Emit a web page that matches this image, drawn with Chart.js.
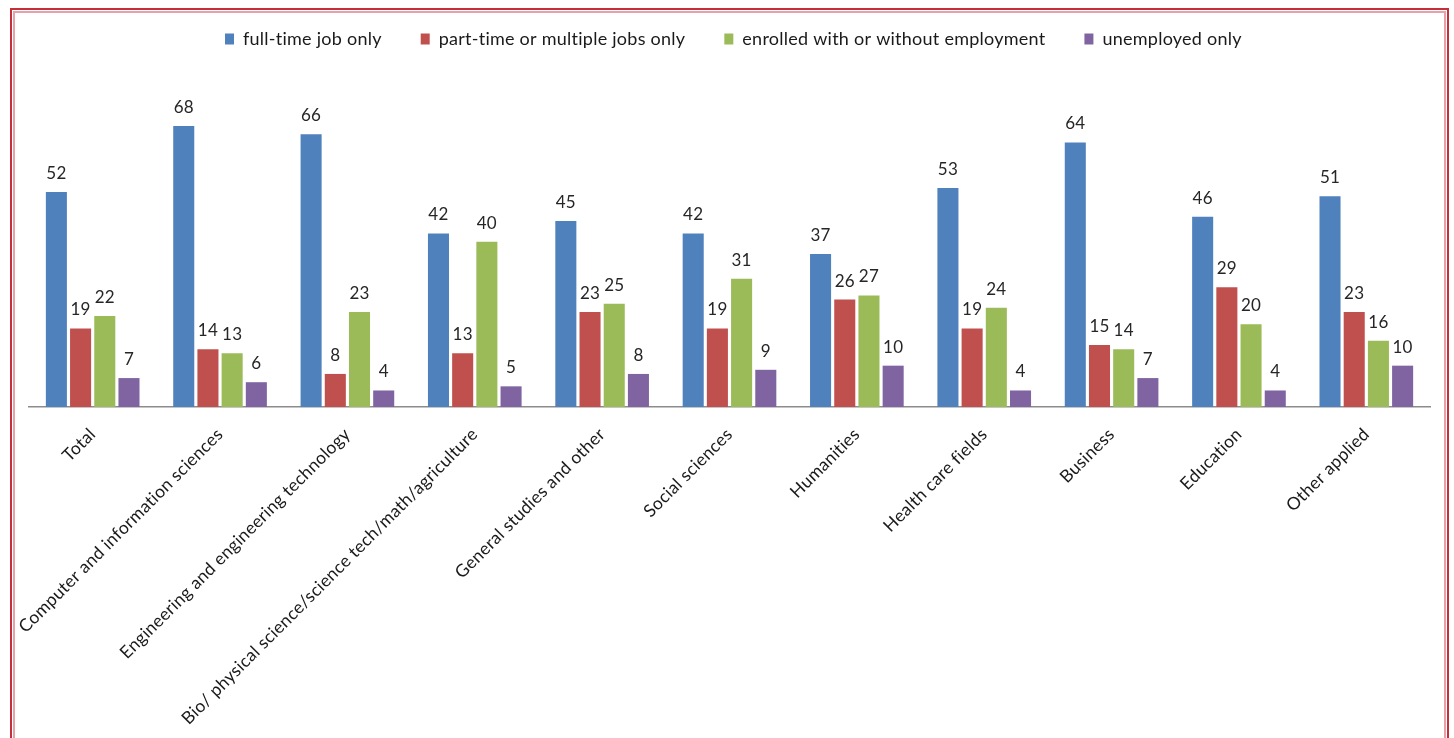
<!DOCTYPE html>
<html>
<head>
<meta charset="utf-8">
<script src="https://cdn.jsdelivr.net/npm/chart.js@4/dist/chart.umd.min.js"></script>
<style>
  html, body { margin: 0; padding: 0; background: #fff; overflow: hidden; }
  body { width: 1454px; height: 738px; position: relative; }
  #frame {
    position: absolute; left: 10px; top: 8px; width: 1435px; height: 800px;
    border: 2px solid #c3303a;
    box-shadow: inset 0 0 0 1px #fff, inset 0 0 0 3px #e6a2a8;
    pointer-events: none; z-index: 2;
  }
  #wrap { position: absolute; left: 0; top: -14px; width: 1454px; height: 752px; }
</style>
</head>
<body>
<div id="wrap"><canvas id="c" width="1454" height="752"></canvas></div>
<div id="frame"></div>
<script>
const categories = [
  'Total',
  'Computer and information sciences',
  'Engineering and engineering technology',
  'Bio/ physical science/science tech/math/agriculture',
  'General studies and other',
  'Social sciences',
  'Humanities',
  'Health care fields',
  'Business',
  'Education',
  'Other applied'
];
const seriesNames = [
  'full-time job only',
  'part-time or multiple jobs only',
  'enrolled with or without employment',
  'unemployed only'
];
const fullTime   = [52, 68, 66, 42, 45, 42, 37, 53, 64, 46, 51];
const partTime   = [19, 14, 8, 13, 23, 19, 26, 19, 15, 29, 23];
const enrolled   = [22, 13, 23, 40, 25, 31, 27, 24, 14, 20, 16];
const unemployed = [7, 6, 4, 5, 8, 9, 10, 4, 7, 4, 10];
const seriesColors = ['#4f81bd', '#c0504d', '#9bbb59', '#8064a2'];

const FONT = 'Lato, "Open Sans", sans-serif';

// Slight tracking on all canvas text (also keeps "ti"/"fi" unligated)
const tracking = {
  id: 'tracking',
  beforeInit(chart) { chart.ctx.letterSpacing = '0.25px'; },
  beforeDraw(chart) { chart.ctx.letterSpacing = '0.25px'; }
};

// Value printed above every bar
const valueLabels = {
  id: 'valueLabels',
  afterDatasetsDraw(chart) {
    const ctx = chart.ctx;
    ctx.save();
    ctx.font = '17px ' + FONT;
    ctx.fillStyle = '#262626';
    ctx.textAlign = 'center';
    ctx.textBaseline = 'alphabetic';
    chart.data.datasets.forEach((ds, i) => {
      chart.getDatasetMeta(i).data.forEach((bar, j) => {
        ctx.fillText(String(ds.data[j]), bar.x, bar.y - 13);
      });
    });
    ctx.restore();
  }
};

// Fixed legend band height so the plot area starts at a set offset,
// and a small nudge of the legend row itself
const legendBand = {
  id: 'legendBand',
  beforeInit(chart) {
    const legend = chart.legend;
    const fit = legend.fit;
    legend.fit = function () {
      fit.call(this);
      this.height = 111;
    };
    const draw = legend.draw;
    legend.draw = function (...args) {
      const ctx = this.ctx;
      ctx.save();
      ctx.translate(-8, 5);
      draw.apply(this, args);
      ctx.restore();
    };
  }
};

const series = [fullTime, partTime, enrolled, unemployed];

new Chart(document.getElementById('c'), {
  type: 'bar',
  data: {
    labels: categories,
    datasets: series.map((vals, i) => ({
      label: seriesNames[i],
      data: vals,
      backgroundColor: seriesColors[i],
      borderWidth: 0,
      categoryPercentage: 0.76,
      barPercentage: 0.87
    }))
  },
  options: {
    responsive: false,
    animation: false,
    events: [],
    layout: { padding: { left: 29, right: 24, top: 0, bottom: 0 } },
    plugins: {
      legend: {
        position: 'top',
        labels: {
          font: { family: FONT, size: 18 },
          color: '#1a1a1a',
          boxWidth: 9,
          boxHeight: 11,
          padding: 39
        }
      },
      tooltip: { enabled: false }
    },
    scales: {
      x: {
        grid: { display: false },
        border: { display: true, color: '#8c8c8c', width: 1.5 },
        ticks: {
          autoSkip: false,
          minRotation: 45,
          maxRotation: 45,
          padding: 9,
          color: '#1a1a1a',
          font: { family: FONT, size: 17.5 }
        },
        afterFit(scale) { scale.height = 331; }
      },
      y: {
        display: false,
        min: 0,
        max: 75
      }
    }
  },
  plugins: [tracking, valueLabels, legendBand]
});
</script>
</body>
</html>
